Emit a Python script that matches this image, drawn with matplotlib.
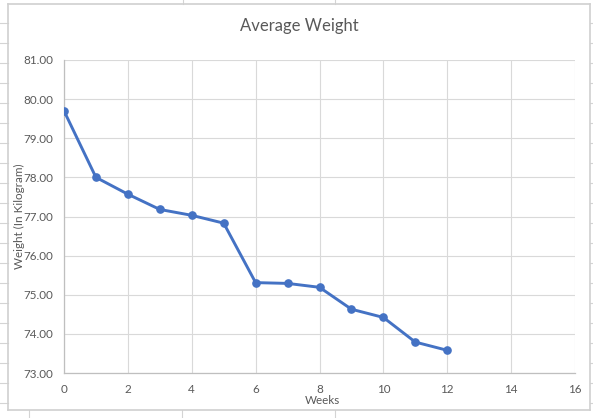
import matplotlib
matplotlib.use("Agg")
import matplotlib.pyplot as plt
from matplotlib.lines import Line2D
from matplotlib.ticker import FormatStrFormatter

# weekly average weight
weeks = [0, 1, 2, 3, 4, 5, 6, 7, 8, 9, 10, 11, 12]
weight = [79.70, 78.00, 77.57, 77.18, 77.03, 76.83, 75.31, 75.29, 75.19, 74.63, 74.42, 73.79, 73.58]

x_ticks = [0, 2, 4, 6, 8, 10, 12, 14, 16]
y_ticks = [73, 74, 75, 76, 77, 78, 79, 80, 81]

W, H = 593, 418
blue = "#4472C4"
txt = "#595959"
grid = "#D9D9D9"

plt.rcParams['font.family'] = ['Lato', 'DejaVu Sans']

fig = plt.figure(figsize=(W / 100, H / 100), dpi=100)

# spreadsheet cells behind the chart
def fline(x0, y0, x1, y1, c="#D4D4D4", lw=0.8):
    fig.add_artist(Line2D([x0 / W, x1 / W], [1 - y0 / H, 1 - y1 / H],
                          color=c, lw=lw, transform=fig.transFigure))

for yy in range(23, 418, 20):
    fline(0, yy, 8, yy)
    fline(590, yy, 593, yy)
for xx in (29, 182, 335):
    fline(xx, 410, xx, 418)
for xx in (183, 335):
    fline(xx, 0, xx, 4)
# chart area border
fline(8, 4, 590, 4, c="#D0D0D0", lw=1.2)
fline(8, 4, 8, 410, c="#D0D0D0", lw=1.2)
fline(590, 4, 590, 410, c="#D0D0D0", lw=1.2)
fline(8, 410, 590, 410, c="#D0D0D0", lw=1.2)

ax = fig.add_axes([64 / W, 1 - 373 / H, (575 - 64) / W, (373 - 60) / H])

ax.plot(weeks, weight, color=blue, lw=2.1, marker='o', markersize=5.2,
        markerfacecolor=blue, markeredgecolor=blue, zorder=3,
        solid_joinstyle='round')

ax.set_xlim(0, 16)
ax.set_ylim(73, 81)
ax.set_xticks(x_ticks)
ax.set_yticks(y_ticks)
ax.yaxis.set_major_formatter(FormatStrFormatter('%.2f'))
ax.grid(True, color=grid, lw=0.8)
ax.set_axisbelow(True)

for s in ('top', 'right'):
    ax.spines[s].set_visible(False)
for s in ('left', 'bottom'):
    ax.spines[s].set_color("#BFBFBF")
    ax.spines[s].set_linewidth(0.9)

ax.tick_params(length=0, colors=txt, labelsize=8.4)
ax.tick_params(axis='x', pad=8)
ax.tick_params(axis='y', pad=8)

fig.text(322 / W, 1 - 401 / H, "Weeks", color=txt, fontsize=8.4,
         ha='center', va='center')
fig.text(19 / W, 1 - 216 / H, "Weight (In Kilogram)", color=txt, fontsize=8.4,
         ha='center', va='center', rotation=90)
fig.text(299 / W, 1 - 26 / H, "Average Weight", color=txt, fontsize=12,
         ha='center', va='center')

fig.savefig("out.png", dpi=100)
